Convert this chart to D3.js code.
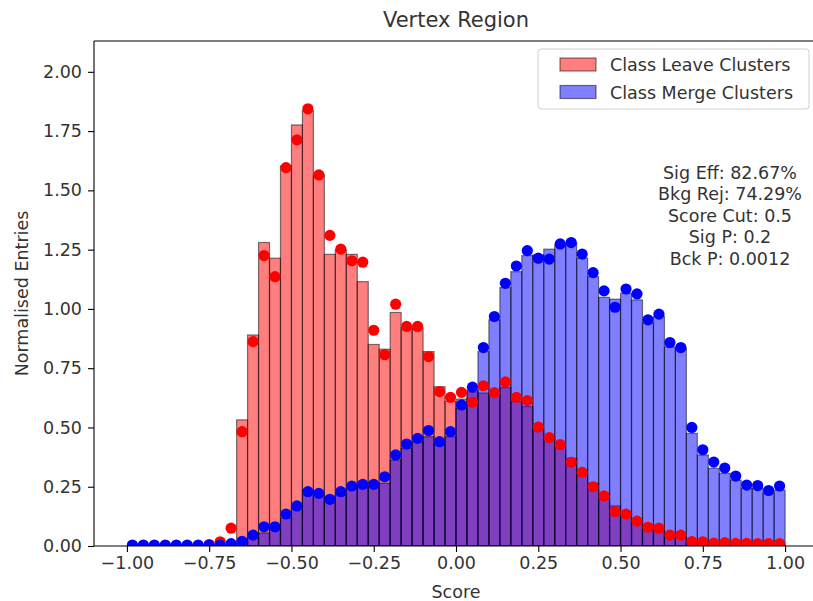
<!DOCTYPE html>
<html>
<head>
<meta charset="utf-8">
<script src="https://cdn.jsdelivr.net/npm/d3@7"></script>
<style>
  html, body { margin: 0; padding: 0; background: #fff; }
  svg { display: block; font-family: "DejaVu Sans", sans-serif; }
</style>
</head>
<body>
<svg id="chart" width="813" height="601"></svg>
<script>
// ---- data ----
const binCount = 60;
const xRange = [-1, 1];
const xTicks = [-1.00, -0.75, -0.50, -0.25, 0.00, 0.25, 0.50, 0.75, 1.00];
const yTicks = [0.00, 0.25, 0.50, 0.75, 1.00, 1.25, 1.50, 1.75, 2.00];
const seriesNames = ["Class Leave Clusters", "Class Merge Clusters"];

// histogram bar heights (per bin, 60 bins from -1 to 1)
const leaveBars = [
  0,0,0,0,0,0,0,0,0,0,
  0.532,0.890,1.280,1.214,1.603,1.776,1.837,1.565,1.230,1.250,
  1.230,1.115,0.850,0.830,0.985,0.920,0.920,0.820,0.672,0.610,
  0.620,0.650,0.645,0.640,0.668,0.609,0.588,0.489,0.461,0.419,
  0.370,0.321,0.265,0.222,0.169,0.138,0.110,0.070,0.068,0.046,
  0.035,0.020,0.018,0.012,0.012,0.010,0.010,0.008,0.008,0.008
];
const mergeBars = [
  0,0,0,0,0,0,0,0,0,0.005,
  0.015,0.035,0.055,0.068,0.118,0.166,0.236,0.215,0.200,0.215,
  0.243,0.250,0.250,0.265,0.363,0.412,0.440,0.461,0.433,0.461,
  0.580,0.658,0.820,0.954,1.090,1.157,1.225,1.228,1.252,1.270,
  1.280,1.214,1.136,1.049,1.041,1.066,1.038,0.940,0.968,0.840,
  0.834,0.475,0.384,0.328,0.307,0.278,0.243,0.243,0.222,0.236
];
// points (per bin centre)
const leaveDots = [
  0,0,0,0,0,0,0,0.006,0.018,0.075,
  0.482,0.862,1.225,1.136,1.596,1.713,1.844,1.565,1.310,1.252,
  1.203,1.197,0.910,0.807,1.020,0.926,0.926,0.799,0.651,0.627,
  0.648,0.606,0.676,0.647,0.692,0.627,0.613,0.502,0.457,0.428,
  0.353,0.311,0.250,0.211,0.145,0.135,0.105,0.079,0.075,0.046,
  0.046,0.019,0.018,0.012,0.014,0.011,0.011,0.010,0.010,0.010
];
const mergeDots = [
  0.004,0.004,0.004,0.004,0.004,0.004,0.004,0.004,0.004,0.010,
  0.020,0.046,0.081,0.081,0.135,0.169,0.229,0.222,0.197,0.229,
  0.253,0.260,0.260,0.292,0.384,0.430,0.454,0.487,0.440,0.482,
  0.595,0.670,0.837,0.968,1.108,1.181,1.246,1.214,1.210,1.274,
  1.280,1.231,1.153,1.076,1.007,1.084,1.063,0.954,0.978,0.858,
  0.837,0.500,0.406,0.354,0.329,0.295,0.257,0.255,0.234,0.253
];
const statLines = ["Sig Eff: 82.67%", "Bkg Rej: 74.29%", "Score Cut: 0.5", "Sig P: 0.2", "Bck P: 0.0012"];

// ---- layout ----
const svg = d3.select("#chart");
const L = 94, R = 818, T = 41, B = 546;
const x = d3.scaleLinear().domain([-1.1, 1.1]).range([L, R]);
const y = d3.scaleLinear().domain([0, 2.13]).range([B, T]);
const binW = (xRange[1] - xRange[0]) / binCount;
const edges = d3.range(binCount).map(i => xRange[0] + i * binW);
const textColor = "#333";
const fs = 17.5;

svg.append("defs").append("clipPath").attr("id", "clip")
  .append("rect").attr("x", L).attr("y", T).attr("width", R - L).attr("height", B - T);

const plot = svg.append("g").attr("clip-path", "url(#clip)");

function drawBars(vals, color) {
  plot.append("g").selectAll("rect").data(vals).join("rect")
    .attr("x", (d, i) => x(edges[i]))
    .attr("width", (d, i) => x(edges[i] + binW) - x(edges[i]))
    .attr("y", d => y(d))
    .attr("height", d => y(0) - y(d))
    .attr("fill", color).attr("fill-opacity", 0.5)
    .attr("stroke", "#000").attr("stroke-opacity", 0.5).attr("stroke-width", 1.2);
}
drawBars(leaveBars, "#ff0000");
drawBars(mergeBars, "#0000ff");

function drawDots(vals, color) {
  plot.append("g").selectAll("circle").data(vals).join("circle")
    .attr("cx", (d, i) => x(edges[i] + binW / 2))
    .attr("cy", d => y(d))
    .attr("r", 5.6)
    .attr("fill", color);
}
drawDots(leaveDots, "#ff0000");
drawDots(mergeDots, "#0000ff");

// axes
const fmt = d3.format(".2f");
const xAxis = svg.append("g").attr("transform", `translate(0,${B})`)
  .call(d3.axisBottom(x).tickValues(xTicks).tickFormat(fmt).tickSize(6).tickPadding(5));
const yAxis = svg.append("g").attr("transform", `translate(${L},0)`)
  .call(d3.axisLeft(y).tickValues(yTicks).tickFormat(fmt).tickSize(6).tickPadding(6));
[xAxis, yAxis].forEach(g => {
  g.select(".domain").remove();
  g.selectAll("line").attr("stroke", "#000").attr("stroke-width", 1.1);
  g.selectAll("text").attr("font-size", fs).attr("fill", textColor)
    .attr("font-family", "DejaVu Sans");
});
// spines
svg.append("line").attr("x1", L).attr("x2", L).attr("y1", T).attr("y2", B)
  .attr("stroke", "#000").attr("stroke-width", 1.1);
svg.append("line").attr("x1", L).attr("x2", R).attr("y1", B).attr("y2", B)
  .attr("stroke", "#000").attr("stroke-width", 1.1);
svg.append("line").attr("x1", L).attr("x2", R).attr("y1", T).attr("y2", T)
  .attr("stroke", "#000").attr("stroke-width", 1.1);

// labels
svg.append("text").attr("x", (L + R) / 2).attr("y", 27).attr("text-anchor", "middle")
  .attr("font-size", 21).attr("fill", textColor).text("Vertex Region");
svg.append("text").attr("x", x(0)).attr("y", 598).attr("text-anchor", "middle")
  .attr("font-size", fs).attr("fill", textColor).text("Score");
svg.append("text").attr("transform", `translate(28,${(T + B) / 2}) rotate(-90)`)
  .attr("text-anchor", "middle").attr("font-size", fs).attr("fill", textColor)
  .text("Normalised Entries");

// legend
const lg = svg.append("g");
lg.append("rect").attr("x", 538).attr("y", 49).attr("width", 271).attr("height", 60)
  .attr("rx", 3).attr("fill", "#fff").attr("fill-opacity", 0.8)
  .attr("stroke", "#d0d0d0").attr("stroke-width", 1);
const legendColors = ["#ff0000", "#0000ff"];
seriesNames.forEach((name, i) => {
  const cy = 65 + i * 27.5;
  lg.append("rect").attr("x", 560).attr("y", cy - 7).attr("width", 36).attr("height", 13)
    .attr("fill", legendColors[i]).attr("fill-opacity", 0.5)
    .attr("stroke", "#000").attr("stroke-opacity", 0.5).attr("stroke-width", 1.2);
  lg.append("text").attr("x", 610).attr("y", cy + 6).attr("font-size", fs)
    .attr("fill", textColor).text(name);
});

// stats text
svg.append("g").selectAll("text").data(statLines).join("text")
  .attr("x", 730).attr("y", (d, i) => 179 + i * 21.4)
  .attr("text-anchor", "middle").attr("font-size", fs).attr("fill", textColor)
  .text(d => d);
</script>
</body>
</html>
